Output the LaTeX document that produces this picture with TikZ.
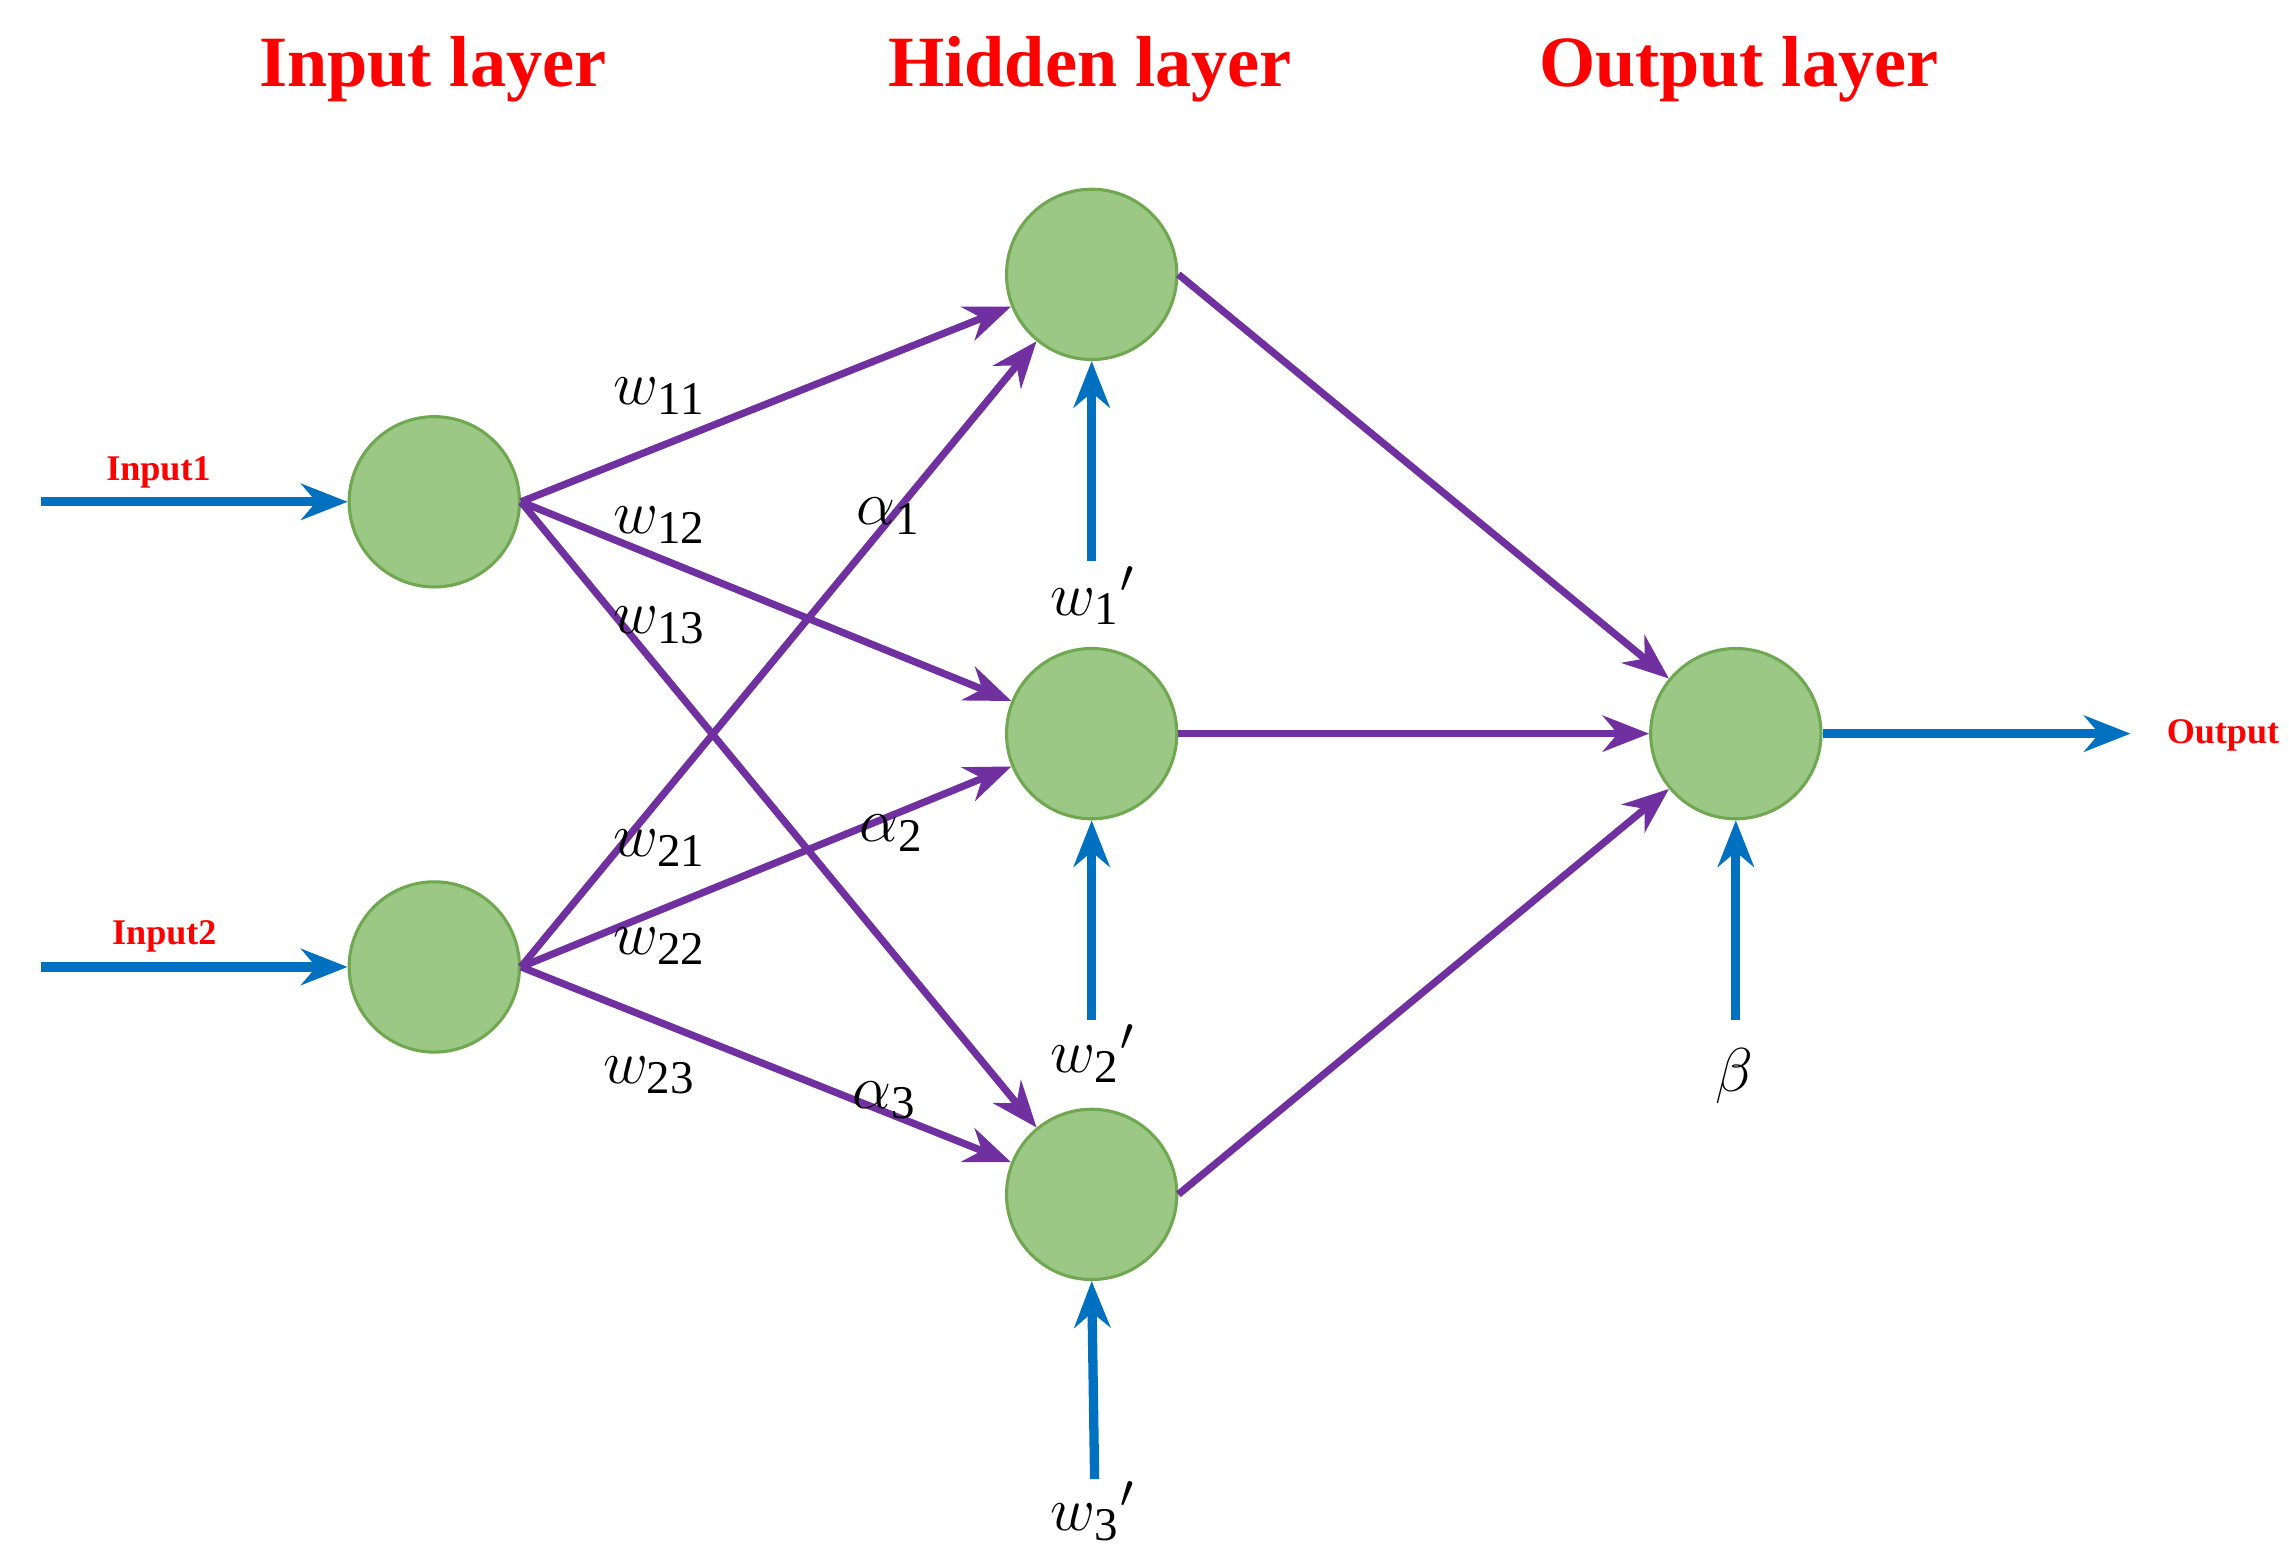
\documentclass[tikz,border=0pt]{standalone}
\usepackage{fontspec}
\setmainfont{Liberation Serif}
\usetikzlibrary{arrows.meta}
\definecolor{nfill}{HTML}{9BC985}
\definecolor{nline}{HTML}{6FA850}
\definecolor{purp}{HTML}{7030A0}
\definecolor{blu}{HTML}{0070C0}
\definecolor{rd}{HTML}{FF0000}
\begin{document}
\begin{tikzpicture}[x=0.01cm,y=-0.01cm,
  neuron/.style={circle,fill=nfill,draw=nline,line width=0.6pt,minimum size=1.16cm,inner sep=0},
  pe/.style={draw=purp,line width=1.4pt,-{Stealth[length=9pt,width=7pt]}},
  be/.style={draw=blu,line width=1.8pt,-{Stealth[length=9pt,width=7pt]}},
  title/.style={text=rd,font=\bfseries\fontsize{14}{16}\selectfont},
  small/.style={text=rd,font=\bfseries\fontsize{7}{8}\selectfont},
  lab/.style={font=\fontsize{13}{15}\selectfont}]
\useasboundingbox (0,0) rectangle (1560,1055);
\node[title] (t1) at (295,47) {Input layer};
\node[title] (t2) at (743,47) {Hidden layer};
\node[title] (t3) at (1185,47) {Output layer};
\node[neuron] (i1) at (296,342) {};
\node[neuron] (i2) at (296,659) {};
\node[neuron] (h1) at (744,187) {};
\node[neuron] (h2) at (744,500) {};
\node[neuron] (h3) at (744,814) {};
\node[neuron] (o) at (1183,500) {};
\coordinate (a1) at (28,342);
\coordinate (a2) at (28,659);
\coordinate (ao) at (1452,500);
\coordinate (b1) at (744,382);
\coordinate (b2) at (744,695);
\coordinate (b3) at (746,1008);
\coordinate (bo) at (1183,695);
\draw[be] (a1) -- (i1.west);
\draw[be] (a2) -- (i2.west);
\draw[be] (o.east) -- (ao);
\draw[be] (b1) -- (h1.south);
\draw[be] (b2) -- (h2.south);
\draw[be] (b3) -- (h3.south);
\draw[be] (bo) -- (o.south);
\foreach \s in {i1,i2}{\foreach \t in {h1,h2,h3}{\draw[pe] (\s.east) -- (\t);}}
\foreach \s in {h1,h2,h3}{\draw[pe] (\s.east) -- (o);}
\node[small] (l1) at (108,322) {Input1};
\node[small] (l2) at (112,638) {Input2};
\node[small] (l3) at (1515,501) {Output};
\node[lab] (w11) at (450,270) {$w_{\mathrm{11}}$};
\node[lab] (w12) at (450,358) {$w_{\mathrm{12}}$};
\node[lab] (w13) at (450,426) {$w_{\mathrm{13}}$};
\node[lab] (w21) at (450,578) {$w_{\mathrm{21}}$};
\node[lab] (w22) at (450,645) {$w_{\mathrm{22}}$};
\node[lab] (w23) at (443,733) {$w_{\mathrm{23}}$};
\node[lab] (al1) at (606,352) {$\alpha_{\mathrm{1}}$};
\node[lab] (al2) at (608,568) {$\alpha_{\mathrm{2}}$};
\node[lab] (al3) at (603,750) {$\alpha_{\mathrm{3}}$};
\node[lab] (v1) at (745,406) {$w_{\mathrm{1}}{}'$};
\node[lab] (v2) at (745,718) {$w_{\mathrm{2}}{}'$};
\node[lab] (v3) at (745,1030) {$w_{\mathrm{3}}{}'$};
\node[lab] (be) at (1182,733) {$\beta$};
\end{tikzpicture}
\end{document}
